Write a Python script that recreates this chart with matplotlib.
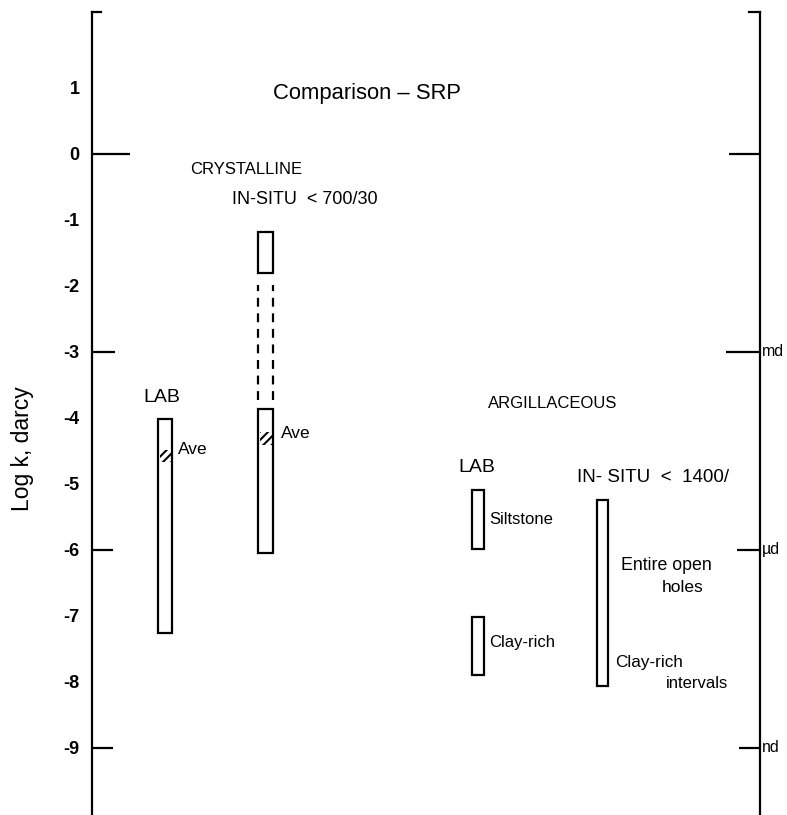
import matplotlib
matplotlib.use('Agg')
import matplotlib.pyplot as plt

plt.rcParams['font.family'] = ['Liberation Sans', 'DejaVu Sans']

# ---- data ----
ytick_values = [1, 0, -1, -2, -3, -4, -5, -6, -7, -8, -9]
ytick_labels = ['1', '0', '-1', '-2', '-3', '-4', '-5', '-6', '-7', '-8', '-9']
left_tick_values = [0, -3, -6, -9]
right_tick_values = [0, -3, -6, -9]
right_tick_labels = ['', 'md', 'µd', 'nd']

bar_names = ['Crystalline LAB', 'Crystalline IN-SITU upper', 'Crystalline IN-SITU lower',
             'Argillaceous LAB Siltstone', 'Argillaceous LAB Clay-rich', 'Argillaceous IN-SITU']
bar_top = [-4.02, -1.19, -3.87, -5.10, -7.02, -5.25]
bar_bottom = [-7.27, -1.81, -6.05, -5.99, -7.90, -8.07]
dashed_top = -1.99
dashed_bottom = -3.73
ave_top = [-4.49, -4.22]
ave_bottom = [-4.67, -4.42]

# ---- layout (pixel-like x units) ----
X0, X1 = 92, 760
bar_x = [165, 265.5, 265.5, 478, 478, 602.5]
bar_w = [14, 15, 15, 12, 12, 11]
ave_x = [165, 265.5]
ave_w = [14, 15]
dashed_x = 265.5
dashed_w = 15
left_tick_len = [38, 23, 21, 21]
right_tick_len = [31, 34, 23, 21]

W, H = 787, 815
fig = plt.figure(figsize=(W / 100, H / 100), dpi=100)
ax = fig.add_axes([X0 / W, 0, (X1 - X0) / W, (H - 12) / H])
Y0PIX, PPU = 153.5, 66.0
ytop = (Y0PIX - 12) / PPU
ybot = (Y0PIX - H) / PPU
ax.set_xlim(X0, X1)
ax.set_ylim(ybot, ytop)

def yv(pix):
    return (Y0PIX - pix) / PPU

for s in ['top', 'bottom']:
    ax.spines[s].set_visible(False)
for s in ['left', 'right']:
    ax.spines[s].set_linewidth(1.6)
ax.set_xticks([])
ax.set_yticks(ytick_values)
ax.set_yticklabels(ytick_labels, fontsize=13, fontweight='bold')
ax.tick_params(axis='y', length=0, pad=9)

# tick marks
for v, L in zip(left_tick_values, left_tick_len):
    ax.plot([X0, X0 + L], [v, v], color='black', lw=1.6, solid_capstyle='butt')
for v, L, lab in zip(right_tick_values, right_tick_len, right_tick_labels):
    ax.plot([X1 - L, X1], [v, v], color='black', lw=1.6, solid_capstyle='butt')
    if lab:
        ax.text(X1 + 2, v, lab, fontsize=11.5, va='center', ha='left', clip_on=False)

# top stubs
ax.plot([X0, X0 + 9], [ytop, ytop], color='black', lw=1.6, clip_on=False)
ax.plot([X1 - 11, X1], [ytop, ytop], color='black', lw=1.6, clip_on=False)

# bars
heights = [t - b for t, b in zip(bar_top, bar_bottom)]
ax.bar(bar_x, heights, bottom=bar_bottom, width=bar_w, fill=False,
       edgecolor='black', linewidth=1.6)

# average hatch
plt.rcParams['hatch.linewidth'] = 1.5
ax.bar(ave_x, [t - b for t, b in zip(ave_top, ave_bottom)], bottom=ave_bottom,
       width=[w - 3 for w in ave_w], fill=False, edgecolor='black', linewidth=0, hatch='////')

# dashed section
ax.vlines([dashed_x - dashed_w / 2, dashed_x + dashed_w / 2], dashed_bottom, dashed_top,
          colors='black', linewidth=1.6, linestyles=(0, (4, 3)))

# texts
ax.text(367, yv(93), 'Comparison – SRP', fontsize=15.8, ha='center', va='center')
ax.text(190, yv(169), 'CRYSTALLINE', fontsize=12, ha='left', va='center')
ax.text(232, yv(200), 'IN-SITU  < 700/30', fontsize=13, ha='left', va='center')
ax.text(143, yv(397), 'LAB', fontsize=14, ha='left', va='center')
ax.text(178, yv(450), 'Ave', fontsize=12.5, ha='left', va='center')
ax.text(281, yv(433), 'Ave', fontsize=12.5, ha='left', va='center')
ax.text(488, yv(403), 'ARGILLACEOUS', fontsize=12, ha='left', va='center')
ax.text(458, yv(468), 'LAB', fontsize=14, ha='left', va='center')
ax.text(577, yv(477), 'IN- SITU  <  1400/', fontsize=13.5, ha='left', va='center')
ax.text(489, yv(519), 'Siltstone', fontsize=12, ha='left', va='center')
ax.text(489, yv(642), 'Clay-rich', fontsize=12, ha='left', va='center')
ax.text(621, yv(565), 'Entire open', fontsize=12.8, ha='left', va='center')
ax.text(662, yv(588), 'holes', fontsize=12.5, ha='left', va='center')
ax.text(615, yv(663), 'Clay-rich', fontsize=12.3, ha='left', va='center')
ax.text(666, yv(683), 'intervals', fontsize=12, ha='left', va='center')

fig.text(22 / W, 1 - 449 / H, 'Log k, darcy', fontsize=16.5, rotation=90,
         ha='center', va='center')

fig.savefig('out.png', dpi=100)
